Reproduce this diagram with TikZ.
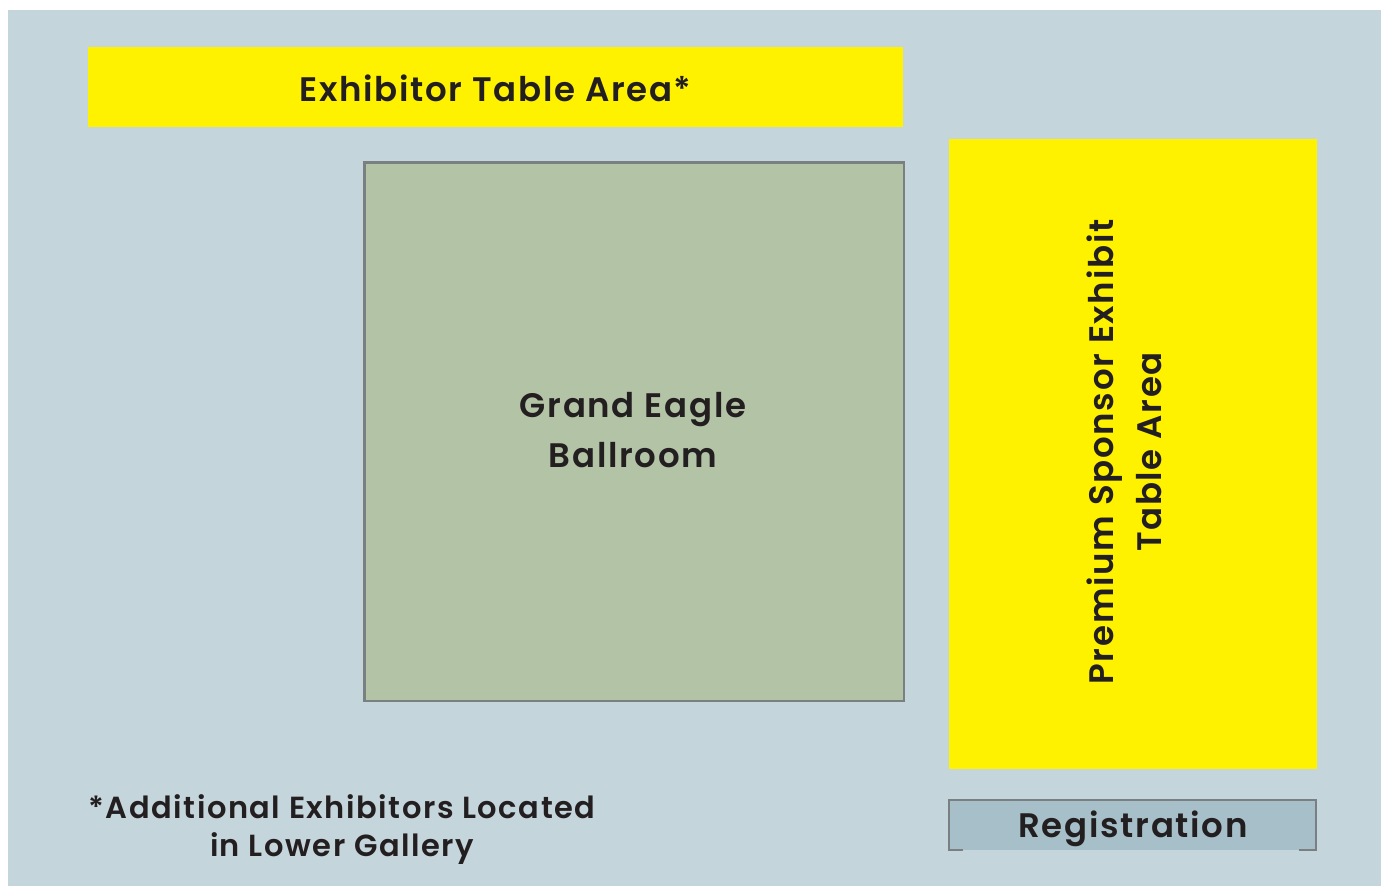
\documentclass[tikz,border=0pt]{standalone}
\usepackage{fontspec}
\setmainfont{Poppins}[UprightFont={* SemiBold},BoldFont={* Bold},LetterSpace=5]
\usetikzlibrary{positioning}
\definecolor{hallbg}{RGB}{197,213,220}
\definecolor{areayellow}{RGB}{255,242,0}
\definecolor{roomgreen}{RGB}{179,195,166}
\definecolor{regfill}{RGB}{166,191,201}
\definecolor{edgegray}{RGB}{122,127,129}
\definecolor{labeltext}{RGB}{35,31,32}

\begin{document}
\begin{tikzpicture}[x=1pt,y=-1pt,
    area/.style={fill=areayellow,draw=none},
    label/.style={text=labeltext,font=\fontsize{34}{48}\selectfont,align=center,inner sep=0pt}]
            \useasboundingbox (0,0) rectangle (1383,886);
            \fill[white] (0,0) rectangle (1383,886);
            \fill[hallbg] (8,10) rectangle (1381,886);
            % exhibit areas
            \fill[area] (88,47) rectangle (903,127);
            \node[label] (exhibitor) at (495.5,88) {Exhibitor Table Area*};
            \fill[area] (949,139) rectangle (1317,769);
            \node[label,rotate=90] (premium) at (1124,452) {Premium Sponsor Exhibit\\Table Area};
            % ballroom
            \draw[fill=roomgreen,draw=edgegray,line width=2.8pt] (364.5,162.5) rectangle (904,701);
            \node[label,font=\fontsize{34}{50}\selectfont] (ballroom) at (633,430) {Grand Eagle\\Ballroom};
            % registration desk
            \fill[regfill] (949,800) rectangle (1316,850);
            \draw[edgegray,line width=2pt] (963,850) -- (949,850) -- (949,800) -- (1316,800) -- (1316,850) -- (1299,850);
            \node[label] (registration) at (1133,829) {Registration};
            \node[label,font=\fontsize{30.5}{38}\selectfont] (note) at (342,830) {*Additional Exhibitors Located\\in Lower Gallery};
        \end{tikzpicture}
\end{document}
